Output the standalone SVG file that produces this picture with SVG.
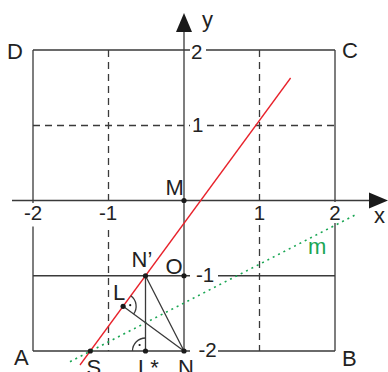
<svg xmlns="http://www.w3.org/2000/svg" width="388" height="372" viewBox="0 0 388 372">
<style>
.g{stroke:#3a3a3a;stroke-width:1.3;fill:none}
.d{stroke:#3a3a3a;stroke-width:1.3;fill:none;stroke-dasharray:7 5}
.r{stroke:#e8222b;stroke-width:1.3;fill:none}
.m{stroke:#1aa654;stroke-width:1.6;fill:none;stroke-dasharray:2 4}
.t{font-family:"Liberation Sans",Arial,sans-serif;font-size:22px;fill:#222}
.n{font-family:"Liberation Sans",Arial,sans-serif;font-size:20.5px;fill:#222}
.p{fill:#1a1a1a}
</style>
<rect width="388" height="372" fill="#fff"/>
<g id="connectors">
<path class="g" d="M33,50H190M206,50H335M33,50V203M33,226.5V351M335,50V202M335,223V351M33,351H190M218,351H335M33,275.75H190M218,275.75H335"/>
<path class="d" d="M108.5,50V203M108.5,230V351M259.5,50V203M259.5,225V351M33,125.5H190M207,125.5H335"/>
<path class="g" d="M12,200.5H372M184,30V351"/>
<polygon class="p" points="388,200.5 369,192.5 369,208.5"/>
<polygon class="p" points="184,13 176,32 192,32"/>
<path class="r" d="M80,365L290.6,78"/>
<path class="m" d="M70,361.7L357,214"/>
<path class="g" d="M145.5,275.75V351M145.5,275.75L184,351M123.1,306.3L184,351"/>
<path class="g" d="M130.8,295.8A13,13 0 0 1 133.6,314"/>
<path class="g" d="M145.5,338A13,13 0 0 0 132.5,351"/>
<circle class="p" cx="130.2" cy="305.2" r="1.1"/>
<circle class="p" cx="139.6" cy="345" r="1.1"/>
</g>
<g id="M"><circle class="p" cx="184" cy="200.5" r="2.6"/><text class="t" x="165.5" y="195">M</text></g>
<g id="O"><circle class="p" cx="184" cy="275.75" r="2.6"/><text class="t" x="165.5" y="274">O</text></g>
<g id="Nprime"><circle class="p" cx="145.5" cy="275.75" r="2.6"/><text class="t" x="131.5" y="267">N’</text></g>
<g id="L"><circle class="p" cx="123.1" cy="306.3" r="2.6"/><text class="t" x="113" y="300">L</text></g>
<g id="Lstar"><circle class="p" cx="145.5" cy="351" r="2.6"/><text class="t" x="138" y="375">L*</text></g>
<g id="N"><circle class="p" cx="184" cy="351" r="2.6"/><text class="t" x="178" y="375">N</text></g>
<g id="S"><circle class="p" cx="90.3" cy="351" r="2.6"/><text class="t" x="86.5" y="375">S</text></g>
<g id="A"><text class="t" x="14" y="365">A</text></g>
<g id="B"><text class="t" x="342" y="366">B</text></g>
<g id="C"><text class="t" x="342" y="58">C</text></g>
<g id="D"><text class="t" x="7" y="59">D</text></g>
<g id="m"><text class="t" x="308" y="254" style="fill:#1aa654">m</text></g>
<g id="axislabels">
<text class="t" x="374" y="223">x</text>
<text class="t" x="202" y="27">y</text>
<text class="n" x="191" y="58.5">2</text>
<text class="n" x="192" y="131.7">1</text>
<text class="n" x="196" y="282">-1</text>
<text class="n" x="198.5" y="357">-2</text>
<text class="n" x="24" y="220">-2</text>
<text class="n" x="99" y="220">-1</text>
<text class="n" x="253.8" y="220">1</text>
<text class="n" x="329.3" y="220">2</text>
</g>
</svg>
